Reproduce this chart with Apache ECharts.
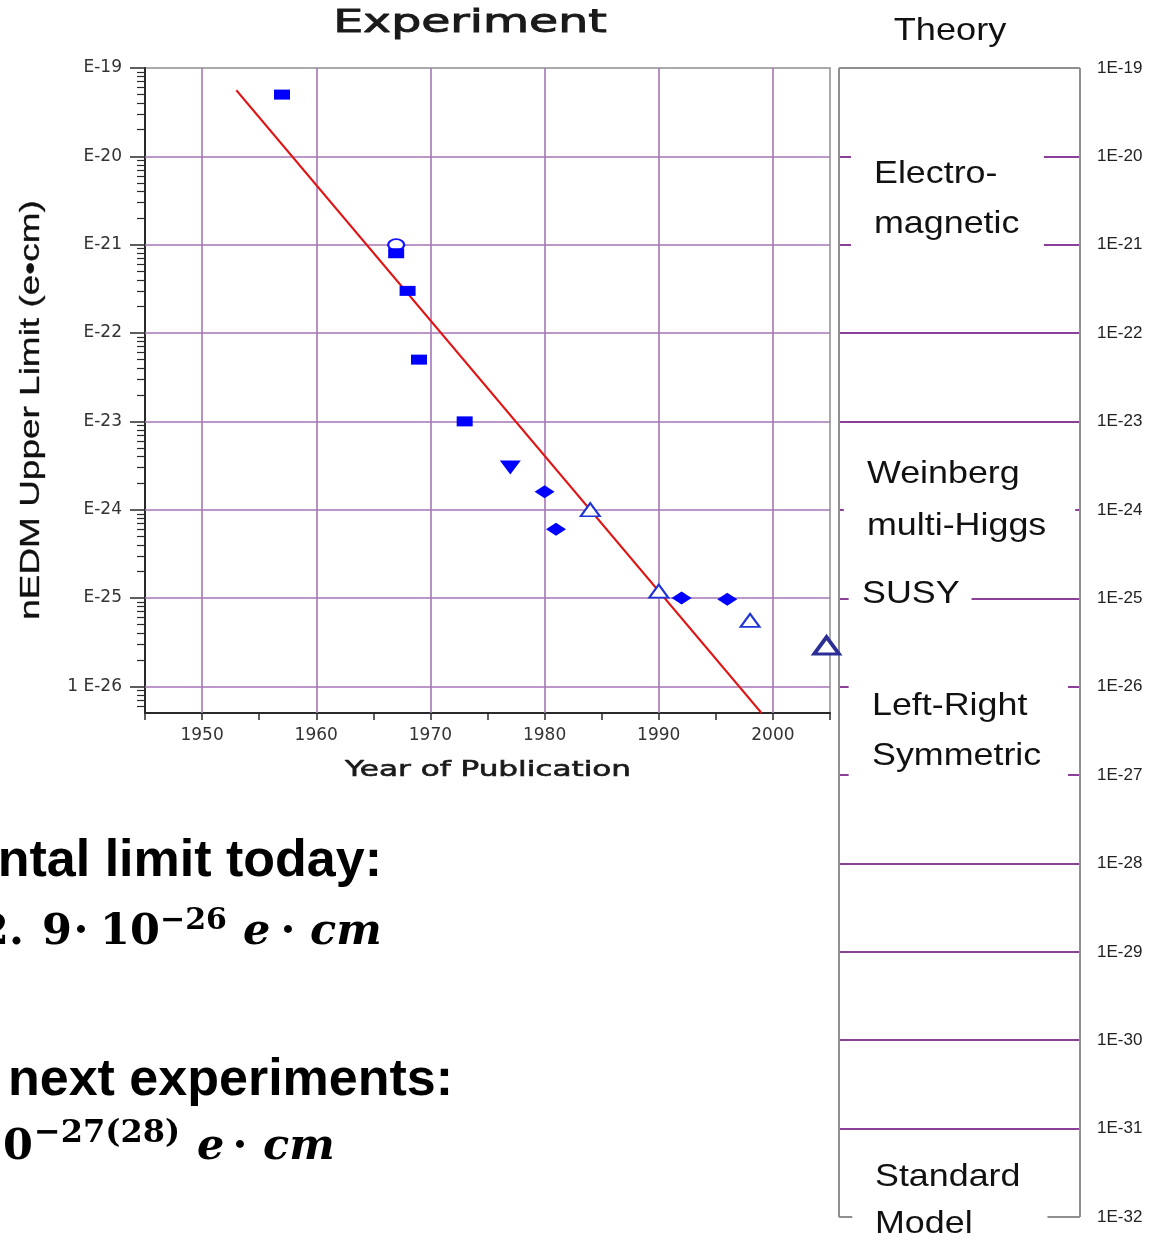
<!DOCTYPE html>
<html>
<head>
<meta charset="utf-8">
<title>nEDM upper limits</title>
<script src="https://cdn.jsdelivr.net/npm/echarts@6/dist/echarts.min.js"></script>
<style>
  html, body { margin: 0; padding: 0; background: #ffffff; }
  #chart { width: 1155px; height: 1241px; }
</style>
</head>
<body>
<div id="chart"></div>
<script>
// ---- Measured neutron EDM upper limits (e·cm) by year of publication ----
const squareYears = [1957, 1967, 1968, 1969, 1973];
const squareLimits = [5.0e-20, 8.0e-22, 3.0e-22, 5.0e-23, 1.0e-23];
const circleYears = [1967];
const circleLimits = [1.0e-21];
const downTriangleYears = [1977];
const downTriangleLimits = [3.0e-24];
const diamondYears = [1980, 1981, 1992, 1996];
const diamondLimits = [1.6e-24, 6.0e-25, 1.0e-25, 9.7e-26];
const openTriangleYears = [1984, 1990, 1998];
const openTriangleLimits = [1.0e-24, 1.2e-25, 5.6e-26];
const latestYears = [2004.7];
const latestLimits = [2.9e-26];

// Trend line through the limits
const trendYears = [1953, 1999];
const trendLimits = [5.6e-20, 5.0e-27];

// Experiment axes
const yearRange = [1945, 2005];
const yearTicks = [1950, 1960, 1970, 1980, 1990, 2000];
const yearTickLabels = ['1950', '1960', '1970', '1980', '1990', '2000'];
const limitRange = [5.0e-27, 1.0e-19];
const limitDecades = [-26, -25, -24, -23, -22, -21, -20, -19];
const limitDecadeLabels = ['1 E-26', 'E-25', 'E-24', 'E-23', 'E-22', 'E-21', 'E-20', 'E-19'];

// Theory scale
const theoryDecades = [-32, -31, -30, -29, -28, -27, -26, -25, -24, -23, -22, -21, -20, -19];
const theoryDecadeLabels = ['1E-32', '1E-31', '1E-30', '1E-29', '1E-28', '1E-27', '1E-26',
  '1E-25', '1E-24', '1E-23', '1E-22', '1E-21', '1E-20', '1E-19'];
const theoryBoundaries = [-20, -21, -22, -23, -24, -25, -26, -27, -28, -29, -30, -31];
// open stretch (fraction of panel width) left in a boundary line for the model names
const theoryBoundaryGaps = [[0.05, 0.85], [0.05, 0.85], null, null, [0.02, 0.98], [0.04, 0.55],
  [0.04, 0.95], [0.04, 0.95], null, null, null, null];

// ---- helpers ----
const log10 = Math.log10;
const toPoints = (xs, ys) => xs.map((x, i) => [x, log10(ys[i])]);
const yMin = log10(limitRange[0]);
const yMax = log10(limitRange[1]);

const minorTicks = [];
for (let d = Math.floor(yMin); d < yMax; d++) {
  for (let k = 2; k <= 9; k++) {
    const v = d + log10(k);
    if (v > yMin && v < yMax) minorTicks.push(v);
  }
}

const gridColor = '#a676b6';
const boundaryColor = '#8a3f98';
const frameColor = '#8f8f8f';
const axisColor = '#2a2a2a';
const markBlue = '#0000ff';

// experiment grid lines
const expGridLines = [];
yearTicks.forEach(y => expGridLines.push({ coords: [[y, yMin], [y, yMax]] }));
limitDecades.filter(d => d > yMin && d < yMax)
  .forEach(d => expGridLines.push({ coords: [[yearRange[0], d], [yearRange[1], d]] }));

// theory boundary segments
const theoryLines = [];
theoryBoundaries.forEach((lvl, i) => {
  const gap = theoryBoundaryGaps[i];
  const spans = gap ? [[0, gap[0]], [gap[1], 1]] : [[0, 1]];
  spans.forEach(s => theoryLines.push({ coords: [[s[0], lvl], [s[1], lvl]] }));
});
const tTop = theoryDecades[theoryDecades.length - 1];
const tBottom = theoryDecades[0];
const theoryFrame = [
  { coords: [[0, tTop], [1, tTop]] },
  { coords: [[0, tTop], [0, tBottom]] },
  { coords: [[1, tTop], [1, tBottom]] },
  { coords: [[0, tBottom], [0.055, tBottom]] },
  { coords: [[0.865, tBottom], [1, tBottom]] }
];

function label(text, x, y, font, extra) {
  extra = extra || {};
  const align = extra.align || 'left';
  const fill = extra.fill || '#111111';
  const style = {
    text: text, font: font, fill: fill,
    align: align, textAlign: align,
    verticalAlign: 'middle', textVerticalAlign: 'middle'
  };
  if (extra.heavy) { style.stroke = fill; style.lineWidth = extra.heavy; }
  const el = { type: 'text', x: x, y: y, silent: true, z: 10, style: style };
  if (extra.scaleX) el.scaleX = extra.scaleX;
  if (extra.rotation) el.rotation = extra.rotation;
  return el;
}

const SANS = '"Liberation Sans", Arial, sans-serif';
const WIDE = '"DejaVu Sans", sans-serif';
const SERIF = '"DejaVu Serif", serif';
const modelFont = '32px ' + SANS;
const textBold = 'bold 52px ' + SANS;
const mathBold = 'bold 43px ' + SERIF;
const mathItalic = 'italic bold 43px ' + SERIF;
const mathSup = 'bold 30px ' + SERIF;

const graphics = [
  label('Experiment', 470, 24, '32px ' + WIDE, { align: 'center', scaleX: 1.48, fill: '#1a1a1a', heavy: 0.9 }),
  label('Theory', 950, 31, '32px ' + SANS, { align: 'center', scaleX: 1.13 }),
  label('nEDM Upper Limit (e\u2022cm)', 31, 410, '28px ' + SANS, { align: 'center', scaleX: 1.32, rotation: Math.PI / 2, heavy: 0.3 }),
  label('Year of Publication', 488, 771, '21px ' + WIDE, { align: 'center', scaleX: 1.48, fill: '#1a1a1a', heavy: 0.6 }),

  label('Electro-', 874, 174, modelFont, { scaleX: 1.12 }),
  label('magnetic', 874, 224, modelFont, { scaleX: 1.12 }),
  label('Weinberg', 867, 474, modelFont, { scaleX: 1.12 }),
  label('multi-Higgs', 867, 526, modelFont, { scaleX: 1.12 }),
  label('SUSY', 862, 594, modelFont, { scaleX: 1.12 }),
  label('Left-Right', 872, 706, modelFont, { scaleX: 1.12 }),
  label('Symmetric', 872, 756, modelFont, { scaleX: 1.12 }),
  label('Standard', 875, 1177, modelFont, { scaleX: 1.12 }),
  label('Model', 875, 1224, modelFont, { scaleX: 1.12 }),

  label('Experimental limit today:', 382, 862, textBold, { align: 'right', fill: '#000' }),
  label('2.', 24, 933, mathBold, { align: 'right', fill: '#000' }),
  label('9', 42, 933, mathBold, { fill: '#000' }),
  label('\u00b7', 81, 933, mathBold, { align: 'center', fill: '#000' }),
  label('10', 100, 933, mathBold, { fill: '#000' }),
  label('\u221226', 160, 921, mathSup, { fill: '#000' }),
  label('e', 243, 933, mathItalic, { fill: '#000' }),
  label('\u00b7', 288, 933, mathBold, { align: 'center', fill: '#000' }),
  label('cm', 310, 933, mathItalic, { fill: '#000' }),

  label('next experiments:', 8, 1081, textBold, { fill: '#000' }),
  label('10', 33, 1148, mathBold, { align: 'right', fill: '#000' }),
  label('\u221227(28)', 34, 1134, 'bold 32px ' + SERIF, { fill: '#000' }),
  label('e', 197, 1148, mathItalic, { fill: '#000' }),
  label('\u00b7', 240, 1148, mathBold, { align: 'center', fill: '#000' }),
  label('cm', 263, 1148, mathItalic, { fill: '#000' })
];

const chart = echarts.init(document.getElementById('chart'), null, { renderer: 'canvas' });

const solid = c => ({ color: c, opacity: 1 });

const option = {
  backgroundColor: '#ffffff',
  animation: false,
  textStyle: { fontFamily: SANS },
  grid: [
    { left: 145, top: 68, width: 685, height: 645, show: true,
      borderColor: frameColor, borderWidth: 1.5, backgroundColor: 'transparent',
      containLabel: false, outerBoundsMode: 'none' },
    { left: 839, top: 68, width: 241, height: 1149, show: false,
      containLabel: false, outerBoundsMode: 'none' }
  ],
  xAxis: [
    {
      gridIndex: 0, type: 'value', min: yearRange[0], max: yearRange[1], interval: 5,
      axisLine: { show: true, lineStyle: { color: axisColor, width: 2 } },
      axisTick: { show: true, length: 7, lineStyle: { color: axisColor, width: 1.5 } },
      axisLabel: {
        margin: 14, color: '#333', fontFamily: WIDE, fontSize: 17,
        formatter: v => { const i = yearTicks.indexOf(v); return i >= 0 ? yearTickLabels[i] : ''; }
      },
      splitLine: { show: false }
    },
    { gridIndex: 1, type: 'value', min: 0, max: 1, show: false }
  ],
  yAxis: [
    {
      gridIndex: 0, type: 'value', min: yMin, max: yMax, position: 'left',
      axisLine: { show: true, lineStyle: { color: axisColor, width: 2 } },
      axisTick: { show: true, length: 15, customValues: limitDecades, lineStyle: { color: axisColor, width: 1.5 } },
      axisLabel: {
        margin: 23, color: '#333', fontFamily: WIDE, fontSize: 17, customValues: limitDecades,
        formatter: v => { const i = limitDecades.indexOf(Math.round(v)); return i >= 0 ? limitDecadeLabels[i] : ''; }
      },
      splitLine: { show: false }
    },
    {
      gridIndex: 0, type: 'value', min: yMin, max: yMax, position: 'left',
      axisLine: { show: false },
      axisTick: { show: true, length: 8, customValues: minorTicks, lineStyle: { color: axisColor, width: 1.2 } },
      axisLabel: { show: false },
      splitLine: { show: false }
    },
    {
      gridIndex: 1, type: 'value', min: tBottom, max: tTop, interval: 1, position: 'right',
      axisLine: { show: false }, axisTick: { show: false },
      axisLabel: {
        margin: 17, color: '#222', fontFamily: SANS, fontSize: 17,
        formatter: v => { const i = theoryDecades.indexOf(Math.round(v)); return i >= 0 ? theoryDecadeLabels[i] : ''; }
      },
      splitLine: { show: false }
    }
  ],
  graphic: { elements: graphics },
  series: [
    {
      name: 'grid', type: 'lines', coordinateSystem: 'cartesian2d', xAxisIndex: 0, yAxisIndex: 0,
      silent: true, z: 1, clip: false, polyline: false,
      lineStyle: { color: gridColor, width: 1.6, opacity: 1 },
      data: expGridLines
    },
    {
      name: 'theory boundaries', type: 'lines', coordinateSystem: 'cartesian2d', xAxisIndex: 1, yAxisIndex: 2,
      silent: true, z: 1, clip: false, polyline: false,
      lineStyle: { color: boundaryColor, width: 2, opacity: 1 },
      data: theoryLines
    },
    {
      name: 'theory frame', type: 'lines', coordinateSystem: 'cartesian2d', xAxisIndex: 1, yAxisIndex: 2,
      silent: true, z: 2, clip: false, polyline: false,
      lineStyle: { color: frameColor, width: 2, opacity: 1 },
      data: theoryFrame
    },
    {
      name: 'trend', type: 'line', xAxisIndex: 0, yAxisIndex: 0, z: 3, silent: true,
      symbol: 'none', lineStyle: { color: '#e01414', width: 2 },
      data: toPoints(trendYears, trendLimits)
    },
    {
      name: 'circle', type: 'scatter', xAxisIndex: 0, yAxisIndex: 0, z: 4, silent: true,
      symbol: 'circle', symbolSize: [16, 11],
      itemStyle: { color: '#ffffff', borderColor: '#1515ff', borderWidth: 2, opacity: 1 },
      data: toPoints(circleYears, circleLimits)
    },
    {
      name: 'squares', type: 'scatter', xAxisIndex: 0, yAxisIndex: 0, z: 5, silent: true,
      symbol: 'rect', symbolSize: [16, 10],
      itemStyle: solid(markBlue),
      data: toPoints(squareYears, squareLimits)
    },
    {
      name: 'down triangle', type: 'scatter', xAxisIndex: 0, yAxisIndex: 0, z: 5, silent: true,
      symbol: 'triangle', symbolRotate: 180, symbolSize: [21, 14],
      itemStyle: solid(markBlue),
      data: toPoints(downTriangleYears, downTriangleLimits)
    },
    {
      name: 'diamonds', type: 'scatter', xAxisIndex: 0, yAxisIndex: 0, z: 5, silent: true,
      symbol: 'diamond', symbolSize: [20, 13],
      itemStyle: solid(markBlue),
      data: toPoints(diamondYears, diamondLimits)
    },
    {
      name: 'open triangles', type: 'scatter', xAxisIndex: 0, yAxisIndex: 0, z: 5, silent: true,
      symbol: 'triangle', symbolSize: [19, 13],
      itemStyle: { color: '#ffffff', borderColor: '#1f33d6', borderWidth: 2, opacity: 1 },
      data: toPoints(openTriangleYears, openTriangleLimits)
    },
    {
      name: 'latest', type: 'scatter', xAxisIndex: 0, yAxisIndex: 0, z: 6, silent: true, clip: false,
      symbol: 'triangle', symbolSize: [25, 17],
      itemStyle: { color: '#ffffff', borderColor: '#2b2e94', borderWidth: 3.5, opacity: 1 },
      data: toPoints(latestYears, latestLimits)
    }
  ]
};

chart.setOption(option);
</script>
</body>
</html>
